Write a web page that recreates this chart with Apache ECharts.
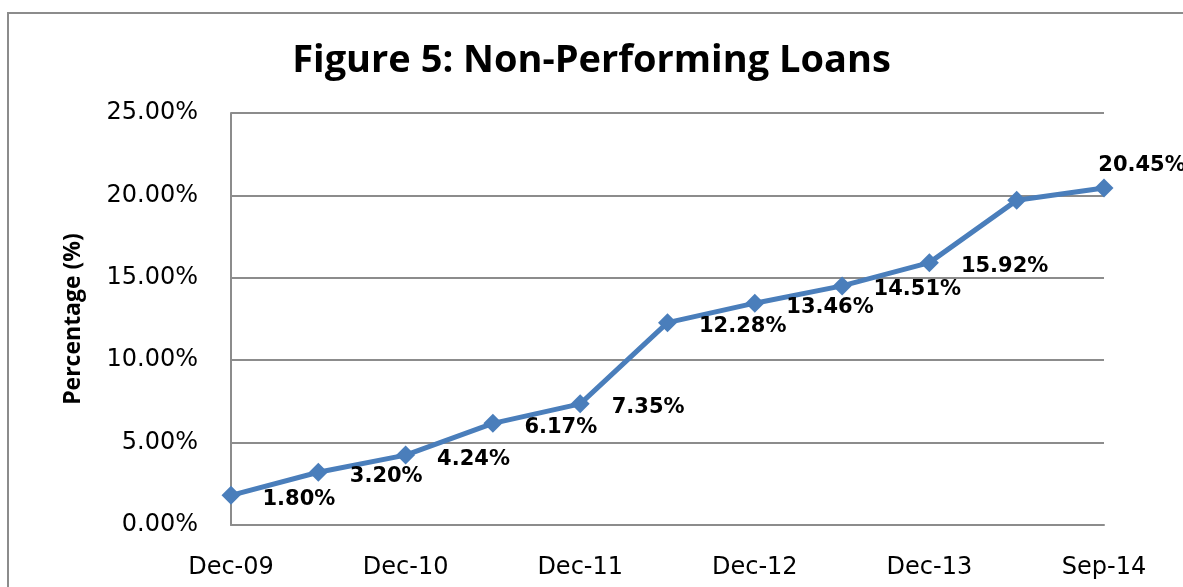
<!DOCTYPE html>
<html>
<head>
<meta charset="utf-8">
<script src="https://cdn.jsdelivr.net/npm/echarts@6/dist/echarts.min.js"></script>
<style>
  html, body { margin: 0; padding: 0; background: #fff; }
  #chart { width: 1183px; height: 587px; }
</style>
</head>
<body>
<div id="chart"></div>
<script>
// quarters on the x axis, labels shown every other point
var categories = ['Dec-09', 'Jun-10', 'Dec-10', 'Jun-11', 'Dec-11', 'Jun-12',
                  'Dec-12', 'Jun-13', 'Dec-13', 'Mar-14', 'Sep-14'];
var npl = [1.80, 3.20, 4.24, 6.17, 7.35, 12.28, 13.46, 14.51, 15.92, 19.70, 20.45];
var yTicks = [0, 5, 10, 15, 20, 25];

var chart = echarts.init(document.getElementById('chart'));

var points = npl.map(function (v, i) {
  var d = { value: v };
  if (i === 9) d.label = { show: false };
  if (i === npl.length - 1) d.label = { position: 'top', distance: 2, offset: [38, 0] };
  return d;
});

chart.setOption({
  animation: false,
  graphic: [{
    type: 'rect',
    shape: { x: 8, y: 13, width: 1200, height: 620 },
    style: { fill: 'none', stroke: '#8c8c8c', lineWidth: 2 },
    silent: true
  }],
  title: {
    text: 'Figure 5: Non-Performing Loans',
    left: 'center',
    top: 37,
    textStyle: { fontFamily: 'Open Sans', fontWeight: 'bold', fontSize: 38, color: '#000' }
  },
  grid: { left: 231, right: 79, top: 113, bottom: 62 },
  xAxis: {
    type: 'category',
    data: categories,
    boundaryGap: false,
    axisLine: { lineStyle: { color: '#8c8c8c', width: 2 } },
    axisTick: { show: false },
    axisLabel: {
      interval: 1,
      margin: 31,
      color: '#000',
      fontFamily: 'DejaVu Sans',
      fontSize: 24
    }
  },
  yAxis: {
    type: 'value',
    min: yTicks[0],
    max: yTicks[yTicks.length - 1],
    interval: 5,
    name: 'Percentage (%)',
    nameLocation: 'middle',
    nameGap: 146,
    nameTextStyle: { fontFamily: 'Open Sans', fontWeight: 'bold', fontSize: 23, color: '#000' },
    axisLine: { show: true, lineStyle: { color: '#8c8c8c', width: 2 } },
    axisTick: { show: false },
    splitLine: { lineStyle: { color: '#8c8c8c', width: 2 } },
    axisLabel: {
      margin: 33,
      color: '#000',
      fontFamily: 'DejaVu Sans',
      fontSize: 24,
      formatter: function (v) { return v.toFixed(2) + '%'; }
    }
  },
  series: [{
    type: 'line',
    data: points,
    symbol: 'diamond',
    symbolSize: 19,
    lineStyle: { color: '#4a7ebb', width: 5 },
    itemStyle: { color: '#4a7ebb' },
    label: {
      show: true,
      position: 'right',
      distance: 22,
      offset: [0, 4],
      color: '#000',
      fontFamily: 'DejaVu Sans',
      fontWeight: 'bold',
      fontSize: 21,
      formatter: function (p) { return p.value.toFixed(2) + '%'; }
    }
  }]
});
</script>
</body>
</html>
